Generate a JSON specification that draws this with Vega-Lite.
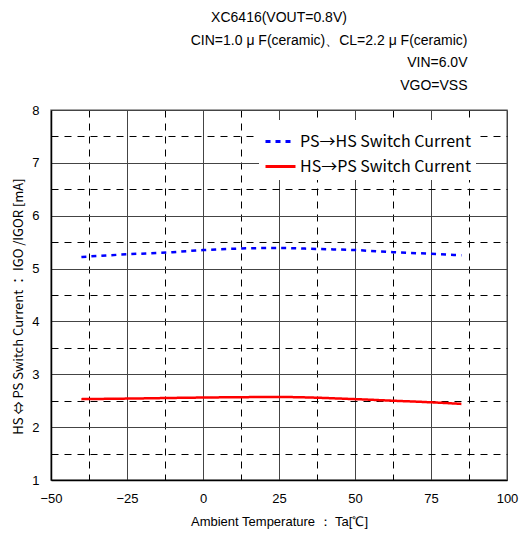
{
  "$schema": "https://vega.github.io/schema/vega-lite/v6.json",
  "autosize": "none",
  "width": 456,
  "height": 370,
  "padding": {"left": 51, "top": 110, "right": 12, "bottom": 54},
  "background": "white",
  "config": {
    "font": "Liberation Sans",
    "view": {"stroke": "#888888", "strokeWidth": 1.5},
    "axis": {"labelFont": "Liberation Sans", "titleFont": "Liberation Sans", "titleFontWeight": "normal"}
  },
  "title": {
    "text": "XC6416(VOUT=0.8V)",
    "anchor": "middle",
    "fontSize": 14,
    "fontWeight": "normal",
    "font": "Liberation Sans",
    "color": "#000000",
    "offset": 8
  },
  "data": {
    "values": [
      {"series": "PS→HS Switch Current", "ta": -40, "i": 5.22},
      {"series": "PS→HS Switch Current", "ta": -25, "i": 5.27},
      {"series": "PS→HS Switch Current", "ta": -10, "i": 5.31},
      {"series": "PS→HS Switch Current", "ta": 0, "i": 5.35},
      {"series": "PS→HS Switch Current", "ta": 12.5, "i": 5.38},
      {"series": "PS→HS Switch Current", "ta": 25, "i": 5.39},
      {"series": "PS→HS Switch Current", "ta": 37.5, "i": 5.37},
      {"series": "PS→HS Switch Current", "ta": 50, "i": 5.35},
      {"series": "PS→HS Switch Current", "ta": 62.5, "i": 5.31},
      {"series": "PS→HS Switch Current", "ta": 75, "i": 5.28},
      {"series": "PS→HS Switch Current", "ta": 85, "i": 5.25},
      {"series": "HS→PS Switch Current", "ta": -40, "i": 2.53},
      {"series": "HS→PS Switch Current", "ta": -25, "i": 2.54},
      {"series": "HS→PS Switch Current", "ta": 0, "i": 2.56},
      {"series": "HS→PS Switch Current", "ta": 25, "i": 2.57},
      {"series": "HS→PS Switch Current", "ta": 50, "i": 2.53},
      {"series": "HS→PS Switch Current", "ta": 62.5, "i": 2.5},
      {"series": "HS→PS Switch Current", "ta": 75, "i": 2.47},
      {"series": "HS→PS Switch Current", "ta": 85, "i": 2.44}
    ]
  },
  "layer": [
    {
      "mark": {"type": "line", "interpolate": "monotone", "strokeWidth": 2.5},
      "encoding": {
        "x": {
          "field": "ta", "type": "quantitative",
          "scale": {"domain": [-50, 100], "nice": false},
          "axis": {
            "values": [-50, -37.5, -25, -12.5, 0, 12.5, 25, 37.5, 50, 62.5, 75, 87.5, 100],
            "labelExpr": "datum.value % 25 == 0 ? datum.label : ''",
            "labelFlush": false,
            "labelFontSize": 13,
            "labelColor": "#000000",
            "labelPadding": 12,
            "ticks": false,
            "domainColor": "#000000",
            "domainWidth": 1.5,
            "grid": true,
            "gridColor": {"condition": {"test": "datum.value % 25 == 0", "value": "#444444"}, "value": "#000000"},
            "gridDash": {"condition": {"test": "datum.value % 25 == 0", "value": []}, "value": [7, 6]},
            "gridWidth": 1,
            "title": "Ambient Temperature ： Ta[℃]",
            "titleFontSize": 13,
            "titleColor": "#000000",
            "titlePadding": 10
          }
        },
        "y": {
          "field": "i", "type": "quantitative",
          "scale": {"domain": [1, 8], "nice": false},
          "axis": {
            "values": [1, 1.5, 2, 2.5, 3, 3.5, 4, 4.5, 5, 5.5, 6, 6.5, 7, 7.5, 8],
            "labelExpr": "datum.value % 1 == 0 ? format(datum.value, 'd') : ''",
            "labelFlush": false,
            "labelFontSize": 13,
            "labelColor": "#000000",
            "labelPadding": 12,
            "ticks": false,
            "domainColor": "#000000",
            "domainWidth": 1.5,
            "grid": true,
            "gridColor": {"condition": {"test": "datum.value % 1 == 0", "value": "#444444"}, "value": "#000000"},
            "gridDash": {"condition": {"test": "datum.value % 1 == 0", "value": []}, "value": [7, 6]},
            "gridWidth": 1,
            "title": "HS ⇔ PS Switch Current ： IGO /IGOR [mA]",
            "titleFont": "Noto Sans CJK JP",
            "titleFontSize": 13,
            "titleColor": "#000000",
            "titlePadding": 6,
            "titleY": 196
          }
        },
        "color": {
          "field": "series", "type": "nominal",
          "scale": {"domain": ["PS→HS Switch Current", "HS→PS Switch Current"], "range": ["#0000ff", "#ff0000"]},
          "legend": {
            "orient": "none",
            "legendX": 208,
            "legendY": 10,
            "title": null,
            "fillColor": "white",
            "padding": 5,
            "labelFontSize": 16,
            "labelLimit": 300,
            "labelColor": "#000000",
            "labelFont": "Noto Sans CJK JP",
            "symbolType": "stroke",
            "symbolSize": 900,
            "symbolStrokeWidth": 3,
            "rowPadding": -6,
            "labelOffset": 3
          }
        },
        "strokeDash": {
          "field": "series", "type": "nominal",
          "scale": {"domain": ["PS→HS Switch Current", "HS→PS Switch Current"], "range": [[5, 5], [1, 0]]},
          "legend": null
        }
      }
    },
    {
      "mark": {"type": "line", "opacity": 0},
      "encoding": {
        "x": {
          "field": "ta", "type": "quantitative",
          "scale": {"domain": [-50, 100], "nice": false},
          "axis": {
            "orient": "top",
            "labels": false,
            "ticks": false,
            "domain": false,
            "grid": false,
            "title": ["CIN=1.0 μ F(ceramic)、CL=2.2 μ F(ceramic)", "VIN=6.0V", "VGO=VSS"],
            "titleFontSize": 14,
            "titleColor": "#000000",
            "titleAnchor": "end",
            "titleAlign": "right",
            "titleX": 416,
            "titleLineHeight": 22.5,
            "titlePadding": 18
          }
        },
        "detail": {"field": "series"}
      }
    }
  ],
  "resolve": {"axis": {"x": "independent"}}
}
